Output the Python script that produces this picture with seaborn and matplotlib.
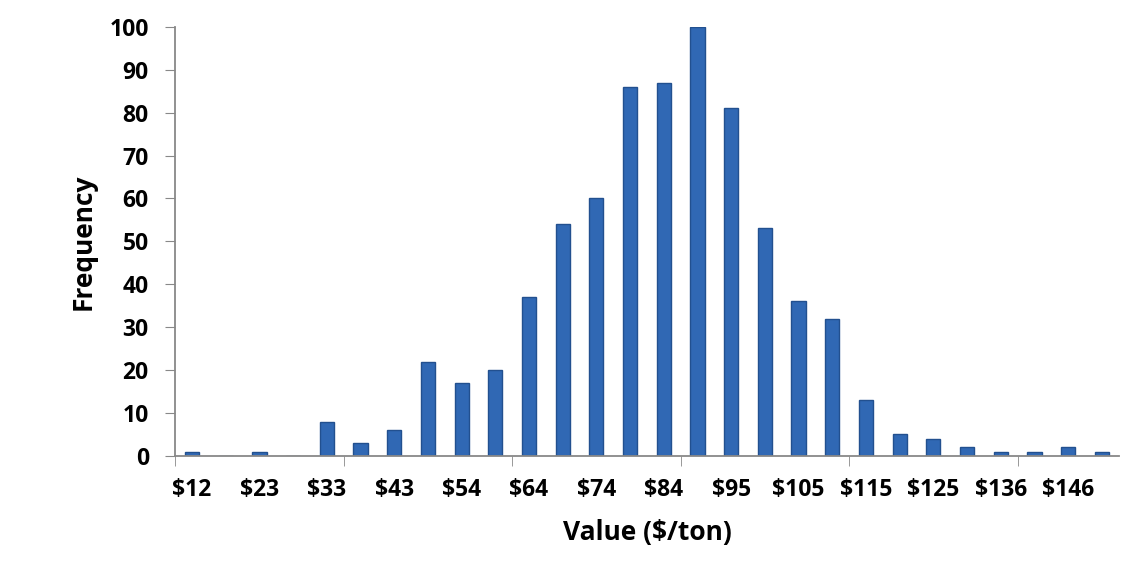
import pandas as pd
import numpy as np
import seaborn as sns
import matplotlib.pyplot as plt
from matplotlib.ticker import FixedLocator

# histogram counts per price bin
freq = [1, 0, 1, 0, 8, 3, 6, 22, 17, 20, 37, 54, 60, 86, 87, 100,
        81, 53, 36, 32, 13, 5, 4, 2, 1, 1, 2, 1]
# labels shown on every other bin
tick_labels = ['$12', '$23', '$33', '$43', '$54', '$64', '$74', '$84',
               '$95', '$105', '$115', '$125', '$136', '$146']

df = pd.DataFrame({'bin': np.arange(len(freq)), 'Frequency': freq})

sns.set_style('white')
plt.rcParams['font.family'] = ['Open Sans', 'DejaVu Sans']

fig, ax = plt.subplots(figsize=(11.45, 5.83), dpi=100)
fig.subplots_adjust(left=0.153, right=0.977, top=0.954, bottom=0.218)

sns.barplot(data=df, x='bin', y='Frequency', color='#3068B4', width=0.42,
            edgecolor='#22508F', linewidth=1.0, saturation=1, ax=ax)

ax.set_xlim(-0.5, len(freq) - 0.5)
ax.set_ylim(0, 100)
ax.set_yticks(range(0, 101, 10))

ax.set_xticks(range(0, len(freq), 2))
ax.set_xticklabels(tick_labels, fontsize=16.5, fontweight='bold', color='black')
ax.xaxis.set_minor_locator(FixedLocator(np.arange(-0.5, len(freq), 5)))
ax.tick_params(axis='x', which='major', length=0, pad=16)
ax.tick_params(axis='x', which='minor', length=7, color='#888888', direction='out', bottom=True)
ax.tick_params(axis='y', length=7, color='#888888', direction='out', left=True,
               labelsize=16.5, labelcolor='black', pad=12)
for lab in ax.get_yticklabels():
    lab.set_fontweight('bold')

ax.set_xlabel('Value ($/ton)', fontsize=19, fontweight='bold', labelpad=12, color='black')
ax.set_ylabel('Frequency', fontsize=19, fontweight='bold', labelpad=9, color='black')

sns.despine(ax=ax)
for s in ['left', 'bottom']:
    ax.spines[s].set_color('#888888')
    ax.spines[s].set_linewidth(1.3)

plt.savefig('out.png', dpi=100)
